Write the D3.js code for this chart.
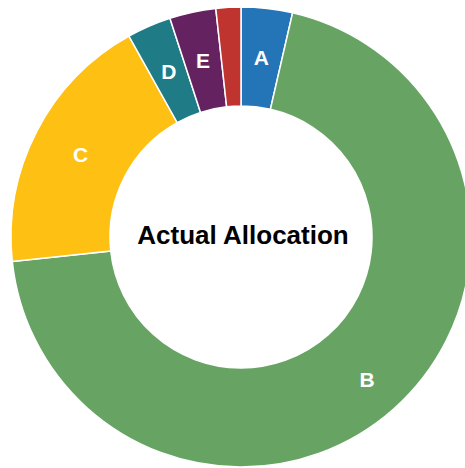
<!DOCTYPE html>
<html>
<head>
<meta charset="utf-8">
<script src="https://cdn.jsdelivr.net/npm/d3@7"></script>
<style>
  html, body { margin: 0; padding: 0; background: #fff; }
  svg { display: block; }
</style>
</head>
<body>
<div id="chart"></div>
<script>
// slices, clockwise from 12 o'clock
var labels = ["A", "B", "C", "D", "E", ""];
var values = [3.6, 69.7, 18.6, 3.1, 3.25, 1.75];
var colors = ["#2474b8", "#67a464", "#fec013", "#1f7b86", "#652260", "#c0342f"];
var title = "Actual Allocation";

var width = 465;
var height = 468;
var cx = 241, cy = 237;
var outerR = 230, innerR = 131;

var svg = d3.select("#chart")
            .append("svg")
            .attr("width", width)
            .attr("height", height);

var g = svg.append("g")
           .attr("transform", "translate(" + cx + "," + cy + ")");

var pie = d3.pie().sort(null).value(function(d) { return d.value; });
var arc = d3.arc().innerRadius(innerR).outerRadius(outerR);

var data = labels.map(function(l, i) {
  return { label: l, value: values[i], color: colors[i] };
});
var arcs = pie(data);

g.selectAll("path.slice")
 .data(arcs)
 .enter()
 .append("path")
 .attr("class", "slice")
 .attr("d", arc)
 .attr("fill", function(d) { return d.data.color; })
 .attr("stroke", "#fff")
 .attr("stroke-width", 1.5);

// the biggest slice pushes its label a bit outward
function labelPos(d) {
  var r = d.data.label === "B" ? 190 : (innerR + outerR) / 2;
  var a = (d.startAngle + d.endAngle) / 2;
  return [Math.sin(a) * r, -Math.cos(a) * r];
}

g.selectAll("text.label")
 .data(arcs.filter(function(d) { return d.data.label !== ""; }))
 .enter()
 .append("text")
 .attr("class", "label")
 .attr("x", function(d) { return labelPos(d)[0]; })
 .attr("y", function(d) { return labelPos(d)[1]; })
 .attr("dy", "0.36em")
 .attr("text-anchor", "middle")
 .style("font-family", "'Liberation Sans', Arial, sans-serif")
 .style("font-weight", "bold")
 .style("font-size", "21px")
 .attr("fill", "#fff")
 .text(function(d) { return d.data.label; });

g.append("text")
 .attr("x", 2)
 .attr("y", -2)
 .attr("dy", "0.36em")
 .attr("text-anchor", "middle")
 .style("font-family", "'Liberation Sans', Arial, sans-serif")
 .style("font-weight", "bold")
 .style("font-size", "26px")
 .attr("fill", "#000")
 .text(title);
</script>
</body>
</html>
